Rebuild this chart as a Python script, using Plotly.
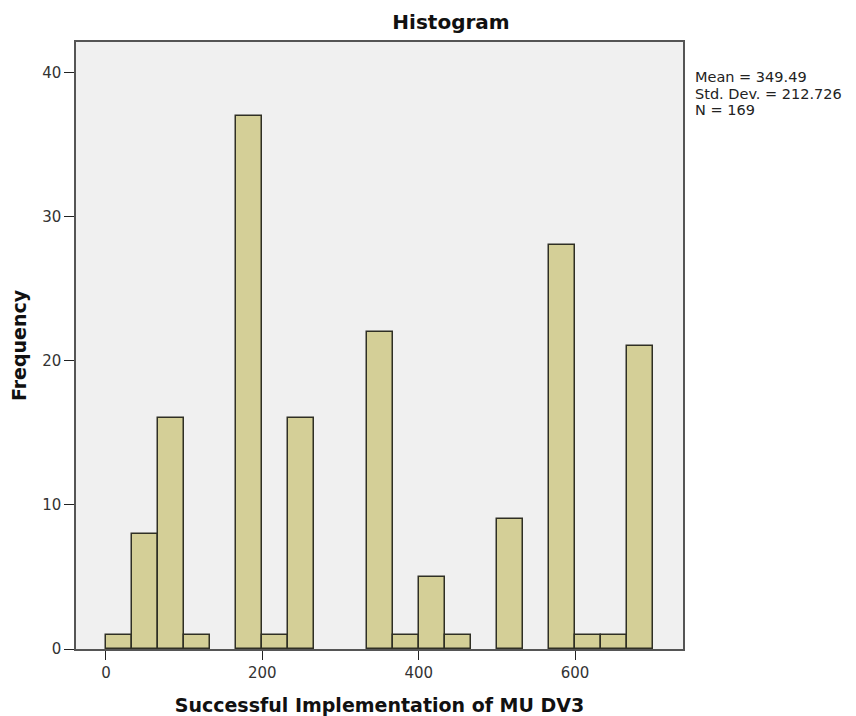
import plotly.graph_objects as go

# Histogram data (SPSS-style), bin width = 100/3
bin_width = 100 / 3
counts = [1, 8, 16, 1, 0, 37, 1, 16, 0, 0, 22, 1, 5, 1, 0, 9, 0, 28, 1, 1, 21]
x_ticks = [0, 200, 400, 600]
y_ticks = [0, 10, 20, 30, 40]
stats_text = ["Mean = 349.49", "Std. Dev. = 212.726", "N = 169"]

centers = [(i + 0.5) * bin_width for i, c in enumerate(counts) if c > 0]
heights = [c for c in counts if c > 0]

W, H = 848, 708  # page body has an 8px margin
ML, MR, MT, MB = 68, 173, 34, 67
PH = H - MT - MB

fig = go.Figure()
fig.add_trace(go.Bar(
    x=centers, y=heights, width=bin_width,
    marker=dict(color="#D4CF97", line=dict(color="#2f2f24", width=1.5)),
    showlegend=False, hoverinfo="x+y",
))

tick_font = dict(family="DejaVu Sans", size=15, color="#333333")
title_font = dict(family="DejaVu Sans", size=19, color="#111111")
fig.update_layout(
    width=W, height=H,
    margin=dict(l=ML, r=MR, t=MT, b=MB),
    paper_bgcolor="white",
    plot_bgcolor="#F0F0F0",
    bargap=0,
    title=dict(text="<b>Histogram</b>", x=443 / W, xanchor="center",
               y=1 - 14 / H, yanchor="middle",
               font=dict(family="DejaVu Sans", size=20, color="#111111")),
    xaxis=dict(range=[-38.3, 738], tickvals=x_ticks, ticks="outside", ticklen=9,
               tickcolor="#222222", tickwidth=1.3, automargin=False,
               showgrid=False, zeroline=False, showline=True, mirror=True,
               linecolor="#555555", linewidth=1.5, tickfont=tick_font,
               title=dict(text="<b>Successful Implementation of MU DV3</b>",
                          font=title_font, standoff=18)),
    yaxis=dict(range=[0, 42.1], tickvals=y_ticks, ticks="outside", ticklen=10,
               tickcolor="#222222", tickwidth=1.3, automargin=False,
               showgrid=False, zeroline=False, showline=True, mirror=True,
               linecolor="#555555", linewidth=1.5, tickfont=tick_font,
               title=dict(text="<b>Frequency</b>", font=title_font, standoff=15)),
)

# stats box lines, centres at page y 77, 94, 110 (figure y 69, 86, 102)
for k, line in enumerate(stats_text):
    yc = 69 + 16.5 * k
    fig.add_annotation(
        text=line, xref="paper", yref="paper",
        x=1.0, y=1 - (yc - MT) / PH, xanchor="left", yanchor="middle",
        xshift=685 - (W - MR), showarrow=False, align="left",
        font=dict(family="DejaVu Sans", size=14.5, color="#222222"),
    )

fig.write_html("out.html")
